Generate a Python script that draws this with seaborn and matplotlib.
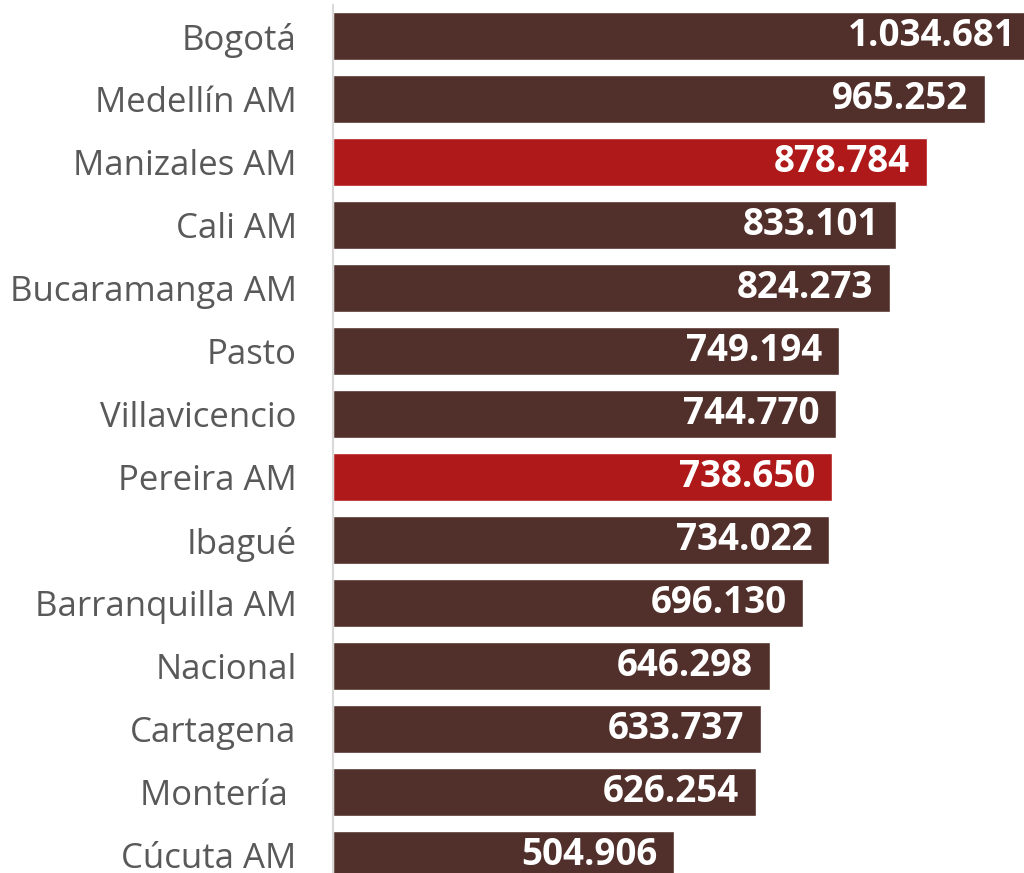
import matplotlib
matplotlib.use("Agg")
import matplotlib.pyplot as plt
import seaborn as sns

cities = ["Bogotá", "Medellín AM", "Manizales AM", "Cali AM", "Bucaramanga AM",
          "Pasto", "Villavicencio", "Pereira AM", "Ibagué", "Barranquilla AM",
          "Nacional", "Cartagena", "Montería ", "Cúcuta AM"]
values = [1034681, 965252, 878784, 833101, 824273, 749194, 744770,
          738650, 734022, 696130, 646298, 633737, 626254, 504906]
highlight = ["Manizales AM", "Pereira AM"]

brown = "#512F2A"
red = "#B0191A"
palette = {c: (red if c in highlight else brown) for c in cities}

sns.set_style("white")
plt.rcParams["font.family"] = ["Open Sans", "DejaVu Sans"]

fig = plt.figure(figsize=(10.24, 8.73), dpi=100)
ax = fig.add_axes([0.325, -0.0155, 0.675, 1.0103])

sns.barplot(x=values, y=cities, hue=cities, palette=palette, legend=False,
            width=0.76, saturation=1, ax=ax)

# the top bar runs past the right edge in the original
ax.set_xlim(0, 1022800)
ax.set_ylim(13.5, -0.5)
ax.set_xticks([])
ax.set_xlabel("")
ax.set_ylabel("")
for s in ["top", "right", "bottom"]:
    ax.spines[s].set_visible(False)
ax.spines["left"].set_color("#d9d9d9")
ax.spines["left"].set_linewidth(1.5)
ax.tick_params(axis="y", length=0, pad=26, labelsize=25, labelcolor="#595959")

for i, v in enumerate(values):
    lbl = f"{v:,}".replace(",", ".")
    ax.annotate(lbl, xy=(v, i), xytext=(-12, 0), textcoords="offset points",
                ha="right", va="center", color="white", fontsize=26.5,
                fontweight="bold", annotation_clip=False)

fig.savefig("out.png", dpi=100)
